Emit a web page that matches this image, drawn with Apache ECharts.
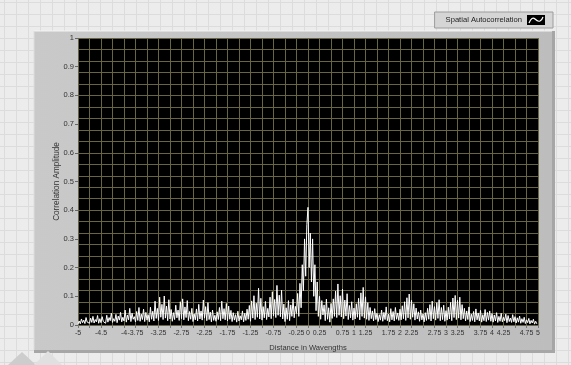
<!DOCTYPE html>
<html>
<head>
<meta charset="utf-8">
<script src="https://cdn.jsdelivr.net/npm/echarts@6/dist/echarts.min.js"></script>
<style>
  html, body { margin: 0; padding: 0; }
  body {
    width: 571px; height: 365px; overflow: hidden;
    background-color: #ececec;
    background-image:
      linear-gradient(to right, #dcdcdc 1px, transparent 1px),
      linear-gradient(to bottom, #dcdcdc 1px, transparent 1px);
    background-size: 12px 12px;
    background-position: 4px 2px;
  }
  #chart { width: 571px; height: 365px; }
</style>
</head>
<body>
<div id="chart"></div>
<script>
// Sampling grid of the distance axis (wavelengths)
const xStart = -5;
const xStep = 0.025;

// Spatial autocorrelation amplitude, one value per sample from -5 to 5
const amplitude = [
  // -5.0 .. -4.525
  0.003,0.014,0.004,0.021,0.008,0.017,0.005,0.026,0.010,0.012,0.006,0.024,0.009,0.030,0.007,0.019,0.011,0.033,0.006,0.022,
  // -4.5 .. -4.025
  0.008,0.029,0.012,0.018,0.006,0.034,0.010,0.026,0.015,0.041,0.009,0.022,0.013,0.037,0.008,0.031,0.017,0.044,0.011,0.027,
  // -4.0 .. -3.525
  0.014,0.052,0.010,0.035,0.018,0.058,0.012,0.041,0.020,0.029,0.011,0.047,0.016,0.061,0.013,0.038,0.019,0.055,0.012,0.044,
  // -3.5 .. -3.025
  0.017,0.036,0.011,0.062,0.020,0.048,0.014,0.083,0.023,0.058,0.016,0.097,0.027,0.072,0.019,0.101,0.024,0.066,0.015,0.088,
  // -3.0 .. -2.525
  0.021,0.054,0.013,0.043,0.019,0.069,0.025,0.052,0.016,0.081,0.022,0.091,0.018,0.063,0.026,0.085,0.015,0.047,0.020,0.058,
  // -2.5 .. -2.025
  0.012,0.039,0.018,0.056,0.014,0.072,0.021,0.049,0.017,0.087,0.024,0.064,0.015,0.078,0.019,0.045,0.011,0.052,0.016,0.034,
  // -2.0 .. -1.525
  0.013,0.046,0.019,0.061,0.015,0.083,0.022,0.057,0.018,0.075,0.014,0.066,0.020,0.051,0.012,0.043,0.017,0.036,0.010,0.048,
  // -1.5 .. -1.025
  0.014,0.032,0.018,0.049,0.011,0.041,0.016,0.055,0.020,0.068,0.013,0.084,0.024,0.102,0.019,0.076,0.027,0.128,0.021,0.093,
  // -1.0 .. -0.525
  0.017,0.064,0.025,0.082,0.019,0.058,0.028,0.097,0.022,0.116,0.031,0.089,0.026,0.138,0.034,0.104,0.029,0.121,0.021,0.073,
  // -0.5 .. -0.025
  0.012,0.060,0.020,0.085,0.015,0.070,0.030,0.090,0.025,0.065,0.040,0.110,0.030,0.145,0.060,0.210,0.120,0.300,0.170,0.350,
  // 0
  0.410,
  // 0.025 .. 0.5
  0.200,0.320,0.150,0.300,0.100,0.210,0.050,0.150,0.030,0.100,0.020,0.085,0.035,0.070,0.015,0.090,0.020,0.060,0.010,0.075,
  // 0.525 .. 1.0
  0.023,0.091,0.030,0.118,0.026,0.143,0.034,0.102,0.028,0.125,0.022,0.087,0.031,0.109,0.019,0.068,0.025,0.081,0.017,0.059,
  // 1.025 .. 1.5
  0.021,0.074,0.027,0.093,0.018,0.112,0.030,0.131,0.024,0.098,0.020,0.078,0.016,0.061,0.022,0.049,0.014,0.057,0.019,0.041,
  // 1.525 .. 2.0
  0.012,0.036,0.017,0.052,0.013,0.044,0.019,0.063,0.015,0.038,0.011,0.057,0.018,0.047,0.014,0.061,0.020,0.042,0.016,0.055,
  // 2.025 .. 2.5
  0.018,0.067,0.022,0.081,0.016,0.095,0.025,0.108,0.020,0.086,0.027,0.074,0.017,0.059,0.021,0.046,0.013,0.052,0.018,0.039,
  // 2.525 .. 3.0
  0.011,0.043,0.016,0.058,0.020,0.071,0.014,0.083,0.022,0.064,0.017,0.078,0.023,0.088,0.015,0.061,0.019,0.069,0.013,0.050,
  // 3.025 .. 3.5
  0.017,0.062,0.021,0.079,0.015,0.094,0.026,0.103,0.019,0.086,0.024,0.097,0.018,0.071,0.022,0.058,0.014,0.049,0.019,0.063,
  // 3.525 .. 4.0
  0.012,0.038,0.016,0.047,0.011,0.056,0.018,0.042,0.014,0.051,0.010,0.036,0.015,0.054,0.012,0.044,0.017,0.049,0.013,0.040,
  // 4.025 .. 4.5
  0.010,0.035,0.014,0.043,0.009,0.030,0.013,0.041,0.011,0.027,0.015,0.038,0.008,0.033,0.012,0.024,0.009,0.036,0.011,0.029,
  // 4.525 .. 5.0
  0.007,0.025,0.010,0.031,0.006,0.022,0.009,0.027,0.005,0.018,0.008,0.023,0.004,0.016,0.007,0.020,0.003,0.013,0.004,0.006
];

// Tick labels printed under the distance axis (ticks run every 0.25)
const xTickLabels = [-5, -4.5, -4, -3.75, -3.25, -2.75, -2.25, -1.75, -1.25, -0.75, -0.25, 0, 0.25,
  0.75, 1, 1.25, 1.75, 2, 2.25, 2.75, 3, 3.25, 3.75, 4, 4.25, 4.75, 5];
// Tick labels on the amplitude axis
const yTickLabels = [0, 0.1, 0.2, 0.3, 0.4, 0.5, 0.6, 0.7, 0.8, 0.9, 1];

const seriesName = 'Spatial Autocorrelation';
const xTitle = 'Distance in Wavengths';
const yTitle = 'Correlation Amplitude';

const points = amplitude.map((v, i) => [xStart + i * xStep, v]);

const labelFont = "'Liberation Sans', Arial, sans-serif";
const textColor = '#333';
const gridColor = '#686642';

const legendIcon = 'image://data:image/svg+xml;utf8,' + encodeURIComponent(
  "<svg xmlns='http://www.w3.org/2000/svg' width='18' height='10'>" +
  "<rect x='0' y='0' width='18' height='10' fill='#000'/>" +
  "<path d='M2 8 Q5 1 8 4 T13 6 T16 2' fill='none' stroke='#fff' stroke-width='1.2'/></svg>");

const pickLabel = (list, v) => {
  const hit = list.find(t => Math.abs(t - v) < 1e-6);
  return hit === undefined ? '' : String(hit);
};

const chart = echarts.init(document.getElementById('chart'), null, { renderer: 'canvas' });

chart.setOption({
  animation: false,
  backgroundColor: 'transparent',
  graphic: {
    elements: [
      // front panel frame around the plot
      { type: 'rect', z: -10, shape: { x: 34, y: 31, width: 521, height: 322 },
        style: { fill: '#a6a6a6' } },
      { type: 'rect', z: -9, shape: { x: 34, y: 31, width: 518, height: 319 },
        style: { fill: new echarts.graphic.LinearGradient(0, 0, 1, 0, [
          { offset: 0, color: '#c9c9c9' }, { offset: 1, color: '#bdbdbd' }]) } },
      { type: 'line', z: -8, shape: { x1: 34, y1: 31, x2: 552, y2: 31 },
        style: { stroke: '#f4f4f4', lineWidth: 1 } },
      { type: 'line', z: -8, shape: { x1: 34, y1: 31, x2: 34, y2: 350 },
        style: { stroke: '#dedede', lineWidth: 1 } },
      // corner decorations
      { type: 'polygon', z: -8, shape: { points: [[8, 365], [22, 352], [36, 365]] },
        style: { fill: '#cdcdcd' } },
      { type: 'polygon', z: -8, shape: { points: [[34, 365], [48, 351], [62, 365]] },
        style: { fill: '#e0e0e0' } }
    ]
  },
  legend: {
    data: [{ name: seriesName, icon: legendIcon }],
    right: 18, top: 12,
    align: 'right',
    itemWidth: 18, itemHeight: 10, itemGap: 8,
    padding: [3, 8, 3, 11],
    backgroundColor: '#d5d5d5',
    borderColor: '#9c9c9c', borderWidth: 1,
    textStyle: { fontFamily: labelFont, fontSize: 7.6, color: '#222' },
    selectedMode: false
  },
  grid: {
    left: 78, top: 38, width: 460, height: 287,
    show: true, backgroundColor: '#000', borderWidth: 0
  },
  xAxis: {
    type: 'value', min: -5, max: 5, interval: 0.25,
    name: xTitle, nameLocation: 'middle', nameGap: 19,
    nameTextStyle: { fontFamily: labelFont, fontSize: 7.6, color: textColor },
    axisLine: { show: false, onZero: false },
    axisTick: { show: true, length: 3, lineStyle: { color: '#777' } },
    axisLabel: {
      margin: 5, fontFamily: labelFont, fontSize: 7, color: textColor,
      showMinLabel: true, showMaxLabel: true,
      formatter: v => pickLabel(xTickLabels, v)
    },
    splitLine: { show: true, lineStyle: { color: gridColor, width: 1 } }
  },
  yAxis: [
    {
      type: 'value', min: 0, max: 1, interval: 0.1, position: 'left',
      name: yTitle, nameLocation: 'middle', nameGap: 17, nameRotate: 90,
      nameMoveOverlap: false,
      nameTextStyle: { fontFamily: labelFont, fontSize: 8.2, color: textColor },
      axisLine: { show: false, onZero: false },
      axisTick: { show: true, length: 3, lineStyle: { color: '#666' } },
      axisLabel: {
        margin: 4, fontFamily: labelFont, fontSize: 7.5, color: textColor,
        formatter: v => pickLabel(yTickLabels, v)
      },
      splitLine: { show: false }
    },
    {
      type: 'value', min: 0, max: 1, interval: 0.04, position: 'left',
      axisLine: { show: false, onZero: false }, axisTick: { show: false }, axisLabel: { show: false },
      splitLine: { show: true, lineStyle: { color: gridColor, width: 1 } }
    }
  ],
  series: [{
    name: seriesName,
    type: 'line',
    data: points,
    yAxisIndex: 0,
    showSymbol: false,
    symbol: 'none',
    lineStyle: { color: '#ffffff', width: 1 },
    itemStyle: { color: '#ffffff' },
    z: 5
  }]
});
</script>
</body>
</html>
